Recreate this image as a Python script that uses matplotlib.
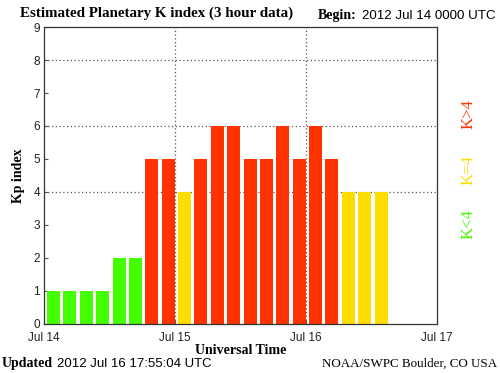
import numpy as np
import matplotlib
matplotlib.use('Agg')
import matplotlib.pyplot as plt

# Kp values, 3 hour bins starting 2012 Jul 14 0000 UTC
kp = [1, 1, 1, 1, 2, 2, 5, 5,
      4, 5, 6, 6, 5, 5, 6, 5,
      6, 5, 4, 4, 4]
day_labels = ['Jul 14', 'Jul 15', 'Jul 16', 'Jul 17']
y_ticks = list(range(10))

GREEN = '#44ff00'
YELLOW = '#ffdd00'
RED = '#ff3300'

def kp_color(k):
    if k < 4:
        return GREEN
    if k == 4:
        return YELLOW
    return RED

fig = plt.figure(figsize=(5, 3.73), dpi=100)
ax = fig.add_axes([0.088, 0.1314, 0.786, 0.7962])

hours = np.arange(len(kp)) * 3
ax.bar(hours + 0.55, kp, width=2.4, align='edge',
       color=[kp_color(k) for k in kp], edgecolor='none', zorder=2)

ax.set_xlim(0, 72)
ax.set_ylim(0, 9)
ax.set_xticks([0, 24, 48, 72])
ax.set_xticklabels(day_labels)
ax.set_yticks(y_ticks)
ax.set_xticks(np.arange(0, 72, 3) + 1.8, minor=True)

# dotted grid
for y in [4, 6, 8]:
    ax.axhline(y, color='#555555', lw=0.9, ls=(0, (1, 2)), zorder=1)
for x in [24, 48]:
    ax.axvline(x, color='#555555', lw=0.9, ls=(0, (1, 2)), zorder=1)

for lab in ax.get_xticklabels() + ax.get_yticklabels():
    lab.set_fontfamily('Liberation Sans')
    lab.set_fontsize(8.5)
    lab.set_color('#222222')
ax.tick_params(axis='both', which='major', direction='in', length=3,
               color='#555555', width=0.8)
ax.tick_params(axis='x', which='major', pad=6)
ax.tick_params(axis='x', which='minor', direction='in', length=4,
               color='#ffffff', width=0.8)
ax.tick_params(axis='y', pad=3)
for s in ax.spines.values():
    s.set_color('#333333')
    s.set_linewidth(0.9)
    s.set_zorder(5)

ax.set_ylabel('Kp index', family='Liberation Serif', fontweight='bold',
              fontsize=10, labelpad=6)
ax.set_xlabel('Universal Time', family='Liberation Serif', fontweight='bold',
              fontsize=10, labelpad=0)

fig.text(0.04, 0.965, 'Estimated Planetary K index (3 hour data)',
         family='Liberation Serif', fontweight='bold', fontsize=10.8, va='center')
fig.text(0.636, 0.958, 'Begin:', family='Liberation Serif', fontweight='bold',
         fontsize=10, va='center')
fig.text(0.724, 0.958, '2012 Jul 14 0000 UTC', family='Liberation Sans',
         fontsize=9.6, va='center')

fig.text(0.004, 0.025, 'Updated', family='Liberation Serif', fontweight='bold',
         fontsize=10, va='center')
fig.text(0.114, 0.025, '2012 Jul 16 17:55:04 UTC', family='Liberation Sans',
         fontsize=9.5, va='center')
fig.text(0.995, 0.025, 'NOAA/SWPC Boulder, CO USA', family='Liberation Serif',
         fontsize=9.4, va='center', ha='right')

# legend of colours on the right
fig.text(0.938, 0.693, 'K>4', color=RED, rotation=90, family='Liberation Serif',
         fontsize=12, ha='center', va='center')
fig.text(0.938, 0.545, 'K=4', color=YELLOW, rotation=90, family='Liberation Serif',
         fontsize=12, ha='center', va='center')
fig.text(0.938, 0.40, 'K<4', color=GREEN, rotation=90, family='Liberation Serif',
         fontsize=12, ha='center', va='center')

fig.savefig('out.png', dpi=100)
